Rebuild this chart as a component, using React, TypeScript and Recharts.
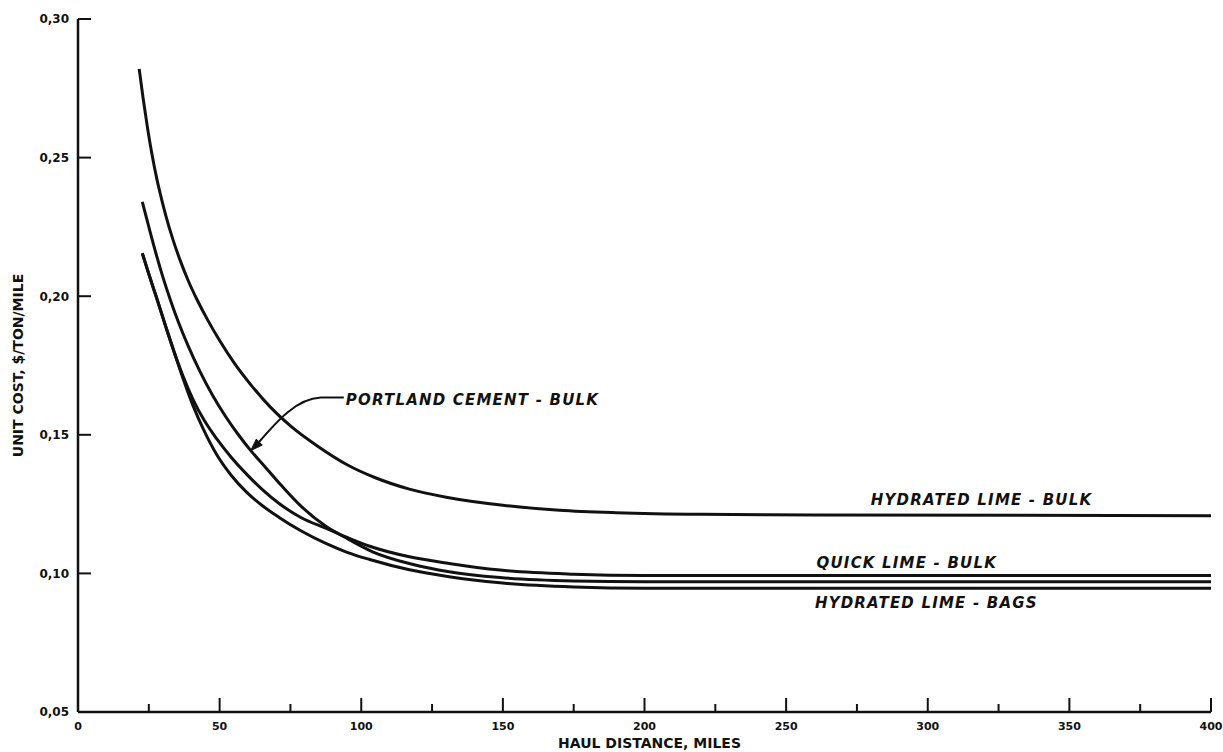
import React from 'react';
import { LineChart, Line, XAxis, YAxis, ReferenceDot } from 'recharts';

// ---- data ----
const hydratedBulkMiles = [21.6, 23, 24.5, 26, 28, 29.2, 31, 33.5, 36, 39, 42, 46, 50, 55, 61.6, 68, 75, 85, 95, 105, 117, 130, 150, 170, 190, 220, 260, 400];
const hydratedBulkCost = [0.282, 0.2713, 0.261, 0.2518, 0.2415, 0.2363, 0.2291, 0.2205, 0.2131, 0.2054, 0.1988, 0.191, 0.184, 0.1761, 0.1673, 0.1599, 0.1532, 0.1456, 0.1392, 0.1345, 0.1304, 0.1275, 0.1246, 0.1228, 0.1219, 0.1213, 0.1211, 0.1208];

const portlandMiles = [22.7, 25, 27.5, 30, 32.5, 35.5, 39, 43, 47.5, 52, 56.5, 61, 66, 72, 79, 87.5, 95, 104, 118, 131, 149, 175, 200, 400];
const portlandCost = [0.234, 0.225, 0.2155, 0.2068, 0.199, 0.1905, 0.1818, 0.173, 0.1643, 0.1568, 0.1502, 0.1443, 0.1385, 0.1315, 0.124, 0.117, 0.1126, 0.1078, 0.1033, 0.1006, 0.0985, 0.0973, 0.097, 0.097];

const quickBulkMiles = [22.7, 25, 28, 31, 34, 37, 40.5, 44.5, 49, 54, 59.5, 65, 71, 79, 87.5, 95, 103, 117, 131, 149, 175, 200, 400];
const quickBulkCost = [0.2155, 0.208, 0.1986, 0.189, 0.1798, 0.1714, 0.163, 0.1553, 0.1485, 0.142, 0.1358, 0.1303, 0.1252, 0.12, 0.1163, 0.113, 0.1098, 0.106, 0.1036, 0.1012, 0.0997, 0.0992, 0.0992];

const hydratedBagsMiles = [22.7, 25, 28, 31, 34, 37, 40.5, 44.5, 49, 54, 59.5, 65, 71, 79, 87.5, 95, 103, 117, 131, 149, 175, 200, 400];
const hydratedBagsCost = [0.2155, 0.208, 0.1986, 0.189, 0.1796, 0.1706, 0.1608, 0.1515, 0.1428, 0.1355, 0.1293, 0.1245, 0.1202, 0.1152, 0.1108, 0.1076, 0.105, 0.1013, 0.0988, 0.0966, 0.0951, 0.0946, 0.0946];

const xTicks = [0, 25, 50, 75, 100, 125, 150, 175, 200, 225, 250, 275, 300, 325, 350, 375, 400];
const yTicks = [0.05, 0.1, 0.15, 0.2, 0.25, 0.3];

const xTitle = 'HAUL DISTANCE, MILES';
const yTitle = 'UNIT COST, $/TON/MILE';

const hydratedBulkName = 'HYDRATED LIME - BULK';
const quickBulkName = 'QUICK LIME - BULK';
const hydratedBagsName = 'HYDRATED LIME - BAGS';
const portlandName = 'PORTLAND CEMENT - BULK';

// label anchor points (data coordinates)
const hydratedBulkLabelAt = { miles: 319, cost: 0.1208 };
const quickBulkLabelAt = { miles: 292.6, cost: 0.0992 };
const hydratedBagsLabelAt = { miles: 299.5, cost: 0.0946 };
const portlandArrowAt = { miles: 61, cost: 0.1443 };

const toPoints = (miles: number[], cost: number[]) =>
  miles.map((m, i) => ({ miles: m, cost: cost[i] }));

const hydratedBulk = toPoints(hydratedBulkMiles, hydratedBulkCost);
const portland = toPoints(portlandMiles, portlandCost);
const quickBulk = toPoints(quickBulkMiles, quickBulkCost);
const hydratedBags = toPoints(hydratedBagsMiles, hydratedBagsCost);

const FONT = '"DejaVu Sans", "Liberation Sans", sans-serif';
const INK = '#111';

const XTick = (props: any) => {
  const { x, y, payload } = props;
  const v = payload.value as number;
  const major = v % 50 === 0;
  return (
    <g>
      <line x1={x} x2={x} y1={y} y2={y - (major ? 14 : 8)} stroke={INK} strokeWidth={2} />
      {major && (
        <text x={x} y={y + 18} textAnchor="middle" fontFamily={FONT} fontWeight="bold" fontSize={11} fill={INK}>
          {v}
        </text>
      )}
    </g>
  );
};

const YTick = (props: any) => {
  const { x, y, payload } = props;
  const v = payload.value as number;
  return (
    <g>
      <line x1={x} x2={x + 13} y1={y} y2={y} stroke={INK} strokeWidth={2} />
      <text x={x - 9} y={y} dy="0.36em" textAnchor="end" fontFamily={FONT} fontWeight="bold" fontSize={12} fill={INK}>
        {v.toFixed(2).replace('.', ',')}
      </text>
    </g>
  );
};

const curveLabel = (text: string, dy: number) => (p: any) => (
  <text
    x={p.cx}
    y={p.cy + dy}
    textAnchor="middle"
    fontFamily={FONT}
    fontWeight="bold"
    fontStyle="italic"
    fontSize={15}
    letterSpacing={1.2}
    fill={INK}
  >
    {text}
  </text>
);

const portlandShape = (p: any) => {
  const cx = p.cx;
  const cy = p.cy;
  return (
    <g transform={`translate(${cx},${cy})`}>
      <path d="M 6,-6 C 25,-28 45,-52 70,-53 L 93,-53" fill="none" stroke={INK} strokeWidth={2} />
      <path d="M 0,0 L 11.5,-5.5 L 5.5,-11.5 Z" fill={INK} stroke={INK} strokeWidth={1} />
      <text
        x={95}
        y={-46}
        textAnchor="start"
        fontFamily={FONT}
        fontWeight="bold"
        fontStyle="italic"
        fontSize={15}
        letterSpacing={1.2}
        fill={INK}
      >
        {portlandName}
      </text>
    </g>
  );
};

const lineProps = {
  type: 'monotone' as const,
  dataKey: 'cost',
  stroke: INK,
  strokeWidth: 3,
  dot: false,
  activeDot: false,
  isAnimationActive: false,
};

export default function App() {
  return (
    <div style={{ position: 'absolute', left: 0, top: 0, width: 1223, height: 752, background: '#fff' }}>
      <LineChart width={1223} height={752} margin={{ top: 19, right: 12, bottom: 0, left: 18 }}>
        <XAxis
          dataKey="miles"
          type="number"
          domain={[0, 400]}
          ticks={xTicks}
          interval={0}
          tickSize={0}
          tickMargin={0}
          tickLine={false}
          axisLine={{ stroke: INK, strokeWidth: 2.5 }}
          tick={XTick}
          height={40}
          allowDataOverflow
          label={(lp: any) => {
            const vb = lp.viewBox || { x: 78, y: 712, width: 1133, height: 40 };
            return (
              <text
                x={vb.x + vb.width / 2 + 5}
                y={vb.y + 36}
                textAnchor="middle"
                fontFamily={FONT}
                fontWeight="bold"
                fontSize={14}
                fill={INK}
              >
                {xTitle}
              </text>
            );
          }}
        />
        <YAxis
          type="number"
          domain={[0.05, 0.3]}
          ticks={yTicks}
          interval={0}
          tickSize={0}
          tickMargin={0}
          tickLine={false}
          axisLine={{ stroke: INK, strokeWidth: 2.5 }}
          tick={YTick}
          width={60}
          allowDataOverflow
          label={(lp: any) => {
            const vb = lp.viewBox || { x: 18, y: 19, width: 60, height: 693 };
            const cy = vb.y + vb.height / 2;
            return (
              <text
                transform={`translate(23,${cy}) rotate(-90)`}
                textAnchor="middle"
                fontFamily={FONT}
                fontWeight="bold"
                fontSize={14}
                fill={INK}
              >
                {yTitle}
              </text>
            );
          }}
        />
        <Line {...lineProps} data={hydratedBulk} name={hydratedBulkName} />
        <Line {...lineProps} data={portland} name={portlandName} />
        <Line {...lineProps} data={quickBulk} name={quickBulkName} />
        <Line {...lineProps} data={hydratedBags} name={hydratedBagsName} />
        <ReferenceDot x={hydratedBulkLabelAt.miles} y={hydratedBulkLabelAt.cost} r={0} shape={curveLabel(hydratedBulkName, -11)} />
        <ReferenceDot x={quickBulkLabelAt.miles} y={quickBulkLabelAt.cost} r={0} shape={curveLabel(quickBulkName, -8)} />
        <ReferenceDot x={hydratedBagsLabelAt.miles} y={hydratedBagsLabelAt.cost} r={0} shape={curveLabel(hydratedBagsName, 20)} />
        <ReferenceDot x={portlandArrowAt.miles} y={portlandArrowAt.cost} r={0} shape={portlandShape} />
      </LineChart>
    </div>
  );
}
